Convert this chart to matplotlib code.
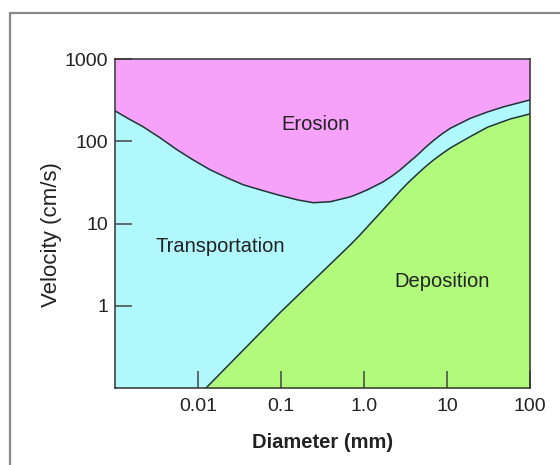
import matplotlib
matplotlib.use("Agg")
from matplotlib import pyplot as plt
from matplotlib.patches import Rectangle
from matplotlib.ticker import NullLocator

plt.rcParams['font.family'] = ['Liberation Sans', 'DejaVu Sans']

# erosion threshold curve (diameter mm, velocity cm/s)
erosion_d = [0.001, 0.0014, 0.00218, 0.0035, 0.0056, 0.0087, 0.014, 0.0224, 0.035,
             0.056, 0.090, 0.157, 0.244, 0.393, 0.684, 0.853, 1.10, 1.71, 2.19,
             2.74, 3.42, 4.40, 5.49, 6.86, 8.8, 11.0, 19.1, 30.7, 47.9, 100]
erosion_v = [234, 192, 150, 110, 78.7, 59.5, 45.0, 36.0, 29.6,
             25.7, 22.4, 19.4, 17.9, 18.4, 21.1, 23.0, 25.7, 32.2, 38.0,
             45.0, 54.7, 68, 84, 102, 124, 144, 190, 227, 262, 318]

# deposition (settling) curve
deposit_d = [0.0125, 0.098, 0.684, 0.853, 1.37, 1.71, 2.19, 2.74, 3.42, 4.40,
             5.49, 6.86, 8.8, 11.0, 19.1, 30.7, 58.2, 100]
deposit_v = [0.1, 0.83, 5.5, 6.9, 11.6, 14.8, 19.5, 25, 31.5, 40,
             49, 59, 71, 83, 114, 148, 187, 215]

x_ticks = [0.01, 0.1, 1, 10, 100]
x_labels = ['0.01', '0.1', '1.0', '10', '100']
y_ticks = [1, 10, 100, 1000]
y_labels = ['1', '10', '100', '1000']

pink = '#F7A2FA'
cyan = '#B0F8FC'
green = '#B2FA7C'
edge = '#1E3636'

fig = plt.figure(figsize=(5.6, 4.65), dpi=100)
ax = fig.add_axes([115 / 560, 1 - 388 / 465, (530 - 115) / 560, (388 - 59) / 465])

ax.set_xscale('log')
ax.set_yscale('log')
ax.set_xlim(0.001, 100)
ax.set_ylim(0.1, 1000)
ax.set_facecolor(cyan)

ax.fill_between(erosion_d, erosion_v, 1000, color=pink, lw=0)
ax.fill_between(deposit_d, 0.1, deposit_v, color=green, lw=0)
ax.plot(erosion_d, erosion_v, color=edge, lw=1.1, solid_joinstyle='round')
ax.plot(deposit_d, deposit_v, color=edge, lw=1.1, solid_joinstyle='round')

ax.text(0.26, 162, 'Erosion', ha='center', va='center', fontsize=14.5, color='#222222')
ax.text(0.0185, 5.2, 'Transportation', ha='center', va='center', fontsize=14.5, color='#222222')
ax.text(8.65, 1.95, 'Deposition', ha='center', va='center', fontsize=14.5, color='#222222')

ax.set_xticks(x_ticks)
ax.set_xticklabels(x_labels)
ax.set_yticks(y_ticks)
ax.set_yticklabels(y_labels)
ax.xaxis.set_minor_locator(NullLocator())
ax.yaxis.set_minor_locator(NullLocator())
ax.tick_params(direction='in', length=12, width=1.1, color='#444444',
               labelsize=14, labelcolor='#222222')
ax.tick_params(axis='x', pad=7)
ax.tick_params(axis='y', pad=5)

for s in ax.spines.values():
    s.set_color('#333333')
    s.set_linewidth(1.1)

ax.set_xlabel('Diameter (mm)', fontsize=14.5, fontweight='bold', color='#222222', labelpad=13)
fig.text(52 / 560, 1 - 235 / 465, 'Velocity (cm/s)', rotation=90, ha='center', va='center',
         fontsize=16, color='#222222')

# outer grey frame, running off the right and bottom edges
fig.add_artist(Rectangle((10 / 560, -0.1), 1.2, 1 - 13 / 465 + 0.1, transform=fig.transFigure,
                         fill=False, edgecolor='#8A8A8A', lw=1.6))

fig.savefig('out.png', dpi=100)
